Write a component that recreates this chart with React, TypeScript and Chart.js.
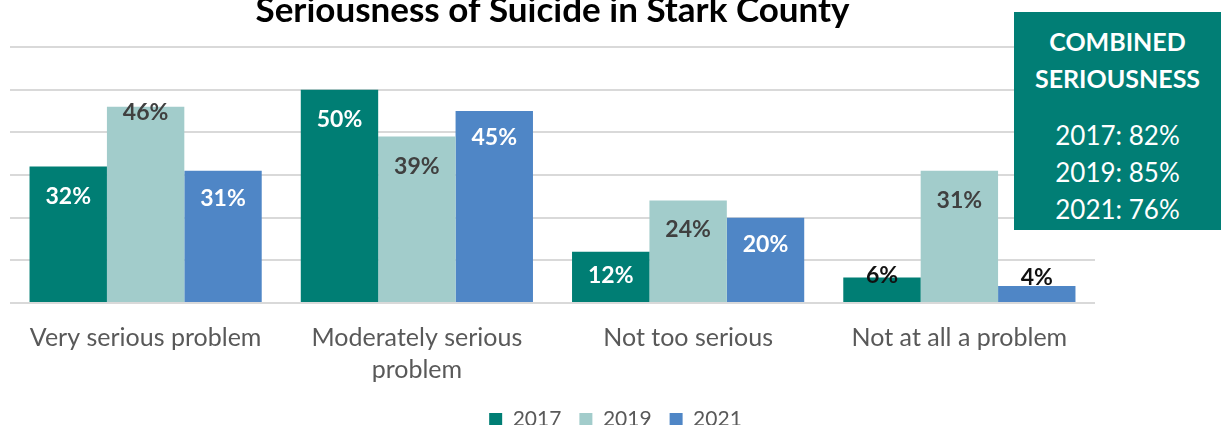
import React, { useEffect, useRef } from "react";
import { Chart, registerables } from "chart.js";

Chart.register(...registerables);

const categories: (string | string[])[] = [
  "Very serious problem",
  ["Moderately serious", "problem"],
  "Not too serious",
  "Not at all a problem",
];
const seriesNames = ["2017", "2019", "2021"];
const values2017 = [32, 50, 12, 6];
const values2019 = [46, 39, 24, 31];
const values2021 = [31, 45, 20, 4];
const combinedLines = ["2017: 82%", "2019: 85%", "2021: 76%"];
const yTicks = [0, 10, 20, 30, 40, 50, 60];

const colors = ["#007E74", "#A2CCCB", "#4F86C6"];
const labelColors = [
  ["#FFFFFF", "#FFFFFF", "#FFFFFF", "#111111"],
  ["#404040", "#404040", "#404040", "#404040"],
  ["#FFFFFF", "#FFFFFF", "#FFFFFF", "#111111"],
];
const labelDy = [
  [30, 30, 24, -2],
  [6, 30, 29, 30],
  [28, 27, 27, -8],
];

const FONT = "Lato, 'Open Sans', sans-serif";

const labelPlugin = {
  id: "barLabels",
  afterDatasetsDraw(chart: any) {
    const ctx = chart.ctx;
    ctx.save();
    ctx.font = `bold 23px ${FONT}`;
    ctx.textAlign = "center";
    ctx.textBaseline = "middle";
    chart.data.datasets.forEach((ds: any, di: number) => {
      const meta = chart.getDatasetMeta(di);
      meta.data.forEach((el: any, i: number) => {
        ctx.fillStyle = labelColors[di][i];
        ctx.fillText(`${ds.data[i]}%`, el.x, el.y + labelDy[di][i]);
      });
    });
    ctx.restore();
  },
};

const titlePlugin = {
  id: "topTitle",
  afterDraw(chart: any) {
    const ctx = chart.ctx;
    const a = chart.chartArea;
    ctx.save();
    ctx.font = `bold 35px ${FONT}`;
    ctx.fillStyle = "#000000";
    ctx.textAlign = "center";
    ctx.textBaseline = "middle";
    ctx.fillText("Seriousness of Suicide in Stark County", (a.left + a.right) / 2, 11);
    ctx.restore();
  },
};

export default function App() {
  const ref = useRef<HTMLCanvasElement>(null);
  useEffect(() => {
    if (!ref.current) return;
    const chart = new Chart(ref.current, {
      type: "bar",
      data: {
        labels: categories,
        datasets: [values2017, values2019, values2021].map((d, i) => ({
          label: seriesNames[i],
          data: d,
          backgroundColor: colors[i],
          borderWidth: 0,
          categoryPercentage: 0.856,
          barPercentage: 1,
        })),
      },
      options: {
        animation: false,
        responsive: false,
        maintainAspectRatio: false,
        layout: { padding: { left: 10, right: 0, top: 47, bottom: -15 } },
        plugins: {
          title: { display: false },
          tooltip: { enabled: false },
          legend: {
            position: "bottom",
            labels: {
              boxWidth: 13,
              boxHeight: 13,
              color: "#595959",
              font: { family: FONT, size: 21 },
              padding: 18,
            },
          },
        },
        scales: {
          x: {
            grid: { display: false },
            border: { display: false },
            afterFit: (s: any) => {
              s.height -= 6;
            },
            ticks: {
              color: "#595959",
              font: { family: FONT, size: 25, lineHeight: 1.28 },
              padding: 11,
              maxRotation: 0,
              autoSkip: false,
            },
          },
          y: {
            position: "right",
            min: 0,
            max: 60,
            afterFit: (s: any) => {
              s.width = 126;
            },
            afterBuildTicks: (s: any) => {
              s.ticks = yTicks.map((v) => ({ value: v }));
            },
            grid: { color: "#D9D9D9", lineWidth: 2, drawTicks: false },
            border: { display: false },
            ticks: { display: false },
          },
        },
      },
      plugins: [labelPlugin, titlePlugin],
    });
    return () => chart.destroy();
  }, []);

  return (
    <div style={{ position: "fixed", left: 0, top: 0, width: 1221, height: 425, background: "#fff", overflow: "hidden" }}>
      <canvas ref={ref} width={1221} height={425} style={{ display: "block" }} />
      <div
        style={{
          position: "absolute",
          left: 1014,
          top: 12,
          width: 207,
          height: 218,
          background: "#017E75",
          color: "#fff",
          fontFamily: FONT,
          textAlign: "center",
        }}
      >
        <div style={{ fontWeight: "bold", fontSize: 25, lineHeight: "37px", marginTop: 11 }}>
          COMBINED
          <br />
          SERIOUSNESS
        </div>
        <div style={{ fontSize: 26, lineHeight: "37px", marginTop: 20 }}>
          {combinedLines.map((l) => (
            <div key={l}>{l}</div>
          ))}
        </div>
      </div>
    </div>
  );
}
